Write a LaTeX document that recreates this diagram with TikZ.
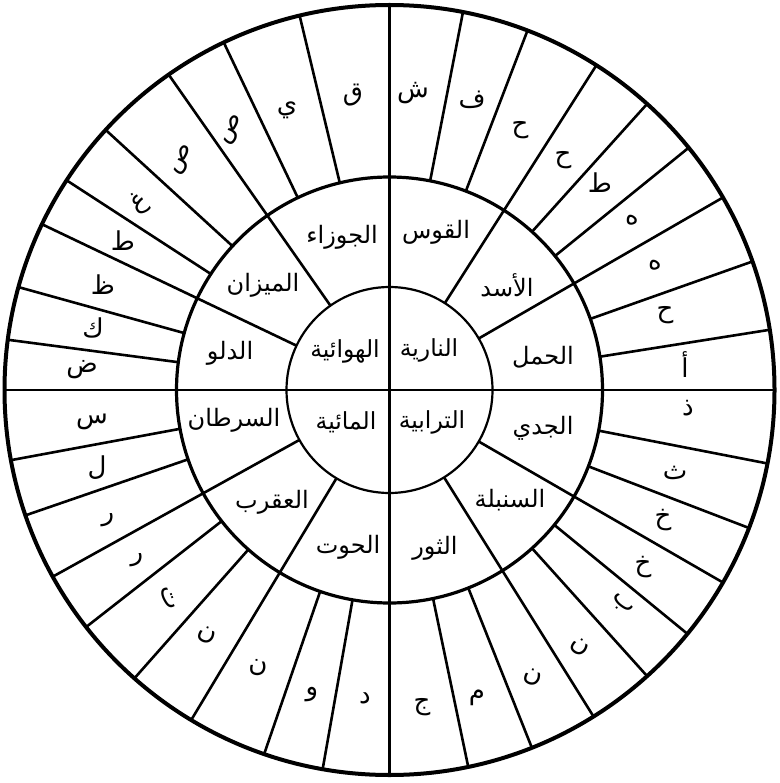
\documentclass[tikz,border=0pt]{standalone}
\usepackage{fontspec}
\newfontfamily\arabicfont[Script=Arabic]{DejaVu Sans}
\TeXXeTstate=1
\newcommand{\ar}[1]{\beginR #1\endR}
\begin{document}
\begin{tikzpicture}[x=1pt,y=-1pt,
  sign/.style={font=\arabicfont\fontsize{24}{27}\selectfont, inner sep=0pt},
  elem/.style={font=\arabicfont\fontsize{23.5}{27}\selectfont, inner sep=0pt},
  lett/.style={font=\arabicfont\fontsize{26}{28}\selectfont, inner sep=0pt},
  rline/.style={line width=2.6pt},
  axis/.style={line width=2.2pt}]
\useasboundingbox (0,0) rectangle (779,783);
\fill[white] (0,0) rectangle (779,783);
\def\cx{389.5}
\def\cy{390}
% outer ring divisions (36 decans)
\foreach \a in {11,21,32.5,42,51,60,70.5,81,101,111,120,129.3,138,148,158.3,168.2,190,199,211,221.5,232,241,251,259.5,277.5,285.5,295.5,303,312.5,325,334.5,346.5}
  \draw[rline] ({\cx+213*sin(\a)},{\cy-213*cos(\a)}) -- ({\cx+385*sin(\a)},{\cy-385*cos(\a)});
% middle ring divisions (12 signs)
\foreach \a in {32.5,60,120,148,211,241,295.5,325}
  \draw[rline] ({\cx+103*sin(\a)},{\cy-103*cos(\a)}) -- ({\cx+213*sin(\a)},{\cy-213*cos(\a)});
% axes
\draw[axis] (\cx,{\cy-385}) -- (\cx,{\cy+385});
\draw[axis] ({\cx-385},\cy) -- ({\cx+385},\cy);
% circles
\draw[line width=2.2pt] (\cx,\cy) circle[radius=103pt];
\draw[line width=3.2pt] (\cx,\cy) circle[radius=213pt];
\draw[line width=4pt] (\cx,\cy) circle[radius=385pt];
% elements
\node[elem] (fire)  at (429,350) {\ar{النارية}};
\node[elem] (air)   at (345,351) {\ar{الهوائية}};
\node[elem] (earth) at (432,422) {\ar{الترابية}};
\node[elem] (water) at (346,422) {\ar{المائية}};
% signs
\node[sign] (s1)  at (436,232) {\ar{القوس}};
\node[sign] (s2)  at (342,237) {\ar{الجوزاء}};
\node[sign] (s3)  at (507,285) {\ar{الأسد}};
\node[sign] (s4)  at (263,285) {\ar{الميزان}};
\node[sign] (s5)  at (543,357) {\ar{الحمل}};
\node[sign] (s6)  at (230,353) {\ar{الدلو}};
\node[sign] (s7)  at (543,428) {\ar{الجدي}};
\node[sign] (s8)  at (234,420) {\ar{السرطان}};
\node[sign] (s9)  at (510,500) {\ar{السنبلة}};
\node[sign] (s10) at (272,502) {\ar{العقرب}};
\node[sign] (s11) at (435,548) {\ar{الثور}};
\node[sign] (s12) at (348,547) {\ar{الحوت}};
% letters
\node[lett] (l0)  at (413,93)  {\ar{ش}};
\node[lett] (l1)  at (472,100) {\ar{ف}};
\node[lett] (l2)  at (520,130) {\ar{ح}};
\node[lett] (l3)  at (563,160) {\ar{ح}};
\node[lett] (l4)  at (600,183) {\ar{ط}};
\node[lett] (l5)  at (632,220) {\ar{ه}};
\node[lett] (l6)  at (655,265) {\ar{ه}};
\node[lett] (l7)  at (665,315) {\ar{ح}};
\node[lett] (l8)  at (685,365) {\ar{أ}};
\node[lett] (l9)  at (688,408) {\ar{ذ}};
\node[lett] (l10) at (675,473) {\ar{ث}};
\node[lett] (l11) at (663,520) {\ar{خ}};
\node[lett] (l12) at (643,567) {\ar{خ}};
\node[lett,rotate=-45] (l13) at (622,605) {\ar{ب}};
\node[lett,rotate=-30] (l14) at (580,647) {\ar{ن}};
\node[lett,rotate=-15] (l15) at (533,677) {\ar{ن}};
\node[lett] (l16) at (477,698) {\ar{م}};
\node[lett] (l17) at (422,707) {\ar{ج}};
\node[lett] (l18) at (365,698) {\ar{د}};
\node[lett] (l19) at (312,695) {\ar{و}};
\node[lett] (l20) at (258,668) {\ar{ن}};
\node[lett,rotate=-20] (l21) at (207,635) {\ar{ن}};
\node[lett,rotate=-70] (l22) at (168,598) {\ar{ت}};
\node[lett] (l23) at (137,560) {\ar{ر}};
\node[lett] (l24) at (108,520) {\ar{ر}};
\node[lett] (l25) at (97,468)  {\ar{ل}};
\node[lett] (l26) at (92,422)  {\ar{س}};
\node[lett] (l27) at (82,370)  {\ar{ض}};
\node[lett] (l28) at (93,328)  {\ar{ك}};
\node[lett] (l29) at (103,285) {\ar{ظ}};
\node[lett] (l30) at (123,241) {\ar{ط}};
\node[lett,rotate=30] (l31) at (140,203) {\ar{غ}};
\node[lett,rotate=60] (l32) at (183,160) {\ar{ص}};
\node[lett,rotate=60] (l33) at (233,130) {\ar{ص}};
\node[lett] (l34) at (287,110) {\ar{ي}};
\node[lett] (l35) at (353,95)  {\ar{ق}};
\end{tikzpicture}
\end{document}
